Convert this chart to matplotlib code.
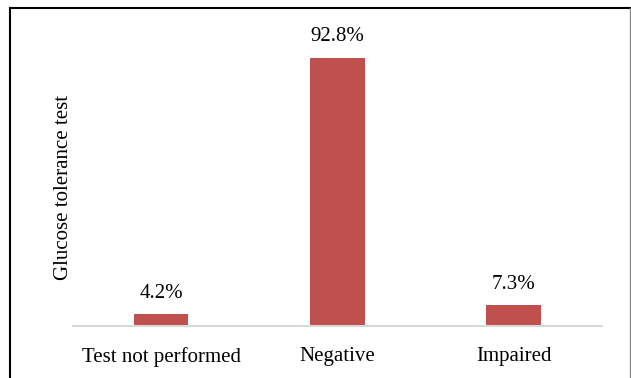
import matplotlib.pyplot as plt
from matplotlib.lines import Line2D

categories = ["Test not performed", "Negative", "Impaired"]
values = [4.2, 92.8, 7.3]
value_labels = ["4.2%", "92.8%", "7.3%"]

plt.rcParams['font.family'] = ['Liberation Serif', 'DejaVu Serif']

fig = plt.figure(figsize=(6.31, 3.78), dpi=100)
ax = fig.add_axes([0.1157, 0.1376, 0.8383, 0.7645])

x = range(len(categories))
bars = ax.bar(x, values, width=0.31, color="#C0504D")

for b, lab in zip(bars, value_labels):
    ax.annotate(lab, (b.get_x() + b.get_width() / 2, b.get_height()),
                xytext=(0, 15), textcoords="offset points",
                ha="center", va="center", fontsize=15)

ax.set_xlim(-0.5, 2.5)
ax.set_ylim(0, 100)
ax.set_xticks(list(x))
ax.set_xticklabels(categories, fontsize=15)
ax.tick_params(axis="x", length=0, pad=15)
ax.set_yticks([])
ax.set_ylabel("Glucose tolerance test", fontsize=15, labelpad=0)
ax.yaxis.set_label_coords(0.0, 0.48)

for side in ["top", "right", "left"]:
    ax.spines[side].set_visible(False)
ax.spines["bottom"].set_color("#D9D9D9")
ax.spines["bottom"].set_linewidth(1.5)

# outer frame around the chart area
W, H = 631, 378
fig.add_artist(Line2D([10 / W, 10 / W], [0, 1 - 8 / H], color="black", lw=1.5))
fig.add_artist(Line2D([10 / W, 1], [1 - 8 / H, 1 - 8 / H], color="black", lw=1.5))
fig.add_artist(Line2D([630 / W, 630 / W], [0, 1 - 8 / H], color="#888888", lw=1))

fig.savefig("out.png", dpi=100)
